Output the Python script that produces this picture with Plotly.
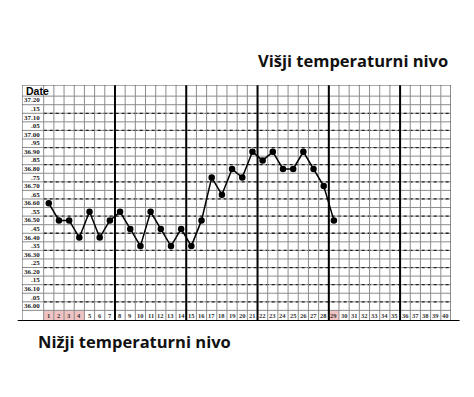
import plotly.graph_objects as go

# ---------------- data ----------------
days = list(range(1, 30))
temps = [36.60, 36.50, 36.50, 36.40, 36.55, 36.40, 36.50, 36.55, 36.45, 36.35,
         36.55, 36.45, 36.35, 36.45, 36.35, 36.50, 36.75, 36.65, 36.80, 36.75,
         36.90, 36.85, 36.90, 36.80, 36.80, 36.90, 36.80, 36.70, 36.50]
row_values = [round(37.20 - 0.05 * k, 2) for k in range(25)]
row_labels = ["37.20", ".15", "37.10", ".05", "37.00", ".95", "36.90", ".85", "36.80", ".75",
              "36.70", ".65", "36.60", ".55", "36.50", ".45", "36.40", ".35", "36.30", ".25",
              "36.20", ".15", "36.10", ".05", "36.00"]
day_labels = [str(d) for d in range(1, 41)]
marked_days = [1, 2, 3, 4, 29]
week_breaks = [7.5, 14.5, 21.5, 28.5, 35.5]
title_top = "Višji temperaturni nivo"
title_bottom = "Nižji temperaturni nivo"

# ---------------- geometry (data units) ----------------
X0, X1 = -1.63, 40.5
Y0, Y1 = 35.913, 37.29
ROW_BOTTOM = 35.975   # bottom of 36.00 row / top of day row
ROW_TOP = 37.225      # top of 37.20 row / bottom of Date header

OFF = 8  # page body margin
W, H = 474 - OFF, 397 - OFF
ML, MR, MT, MB = 22 - OFF, 23, 85 - OFF, 76
PW, PH = W - ML - MR, H - MT - MB

def px(xp):
    return (xp - OFF - ML) / PW

def py(yp):
    return (H - MB - (yp - OFF)) / PH

fig = go.Figure()

shapes = []
GRAY = "#8c8c8c"
for d in marked_days:
    shapes.append(dict(type="rect", x0=d - 0.5, x1=d + 0.5, y0=Y0, y1=ROW_BOTTOM,
                       fillcolor="#f1c3c3", line=dict(width=0), layer="below"))
for k in range(26):
    yv = ROW_BOTTOM + 0.05 * k
    shapes.append(dict(type="line", x0=X0, x1=X1, y0=yv, y1=yv,
                       line=dict(color=GRAY, width=1), layer="below"))
for k in range(12):
    yv = 36.025 + 0.1 * k
    shapes.append(dict(type="line", x0=0.5, x1=X1, y0=yv, y1=yv,
                       line=dict(color="#222", width=1.3, dash="dot"), layer="below"))
for i in range(41):
    xv = 0.5 + i
    shapes.append(dict(type="line", x0=xv, x1=xv, y0=Y0, y1=Y1,
                       line=dict(color=GRAY, width=1), layer="below"))
for xv in week_breaks:
    shapes.append(dict(type="line", x0=xv, x1=xv, y0=Y0, y1=Y1,
                       line=dict(color="#000", width=2), layer="below"))
shapes.append(dict(type="rect", x0=X0, x1=X1, y0=Y0, y1=Y1,
                   line=dict(color="#555", width=1), layer="below"))
shapes.append(dict(type="line", xref="paper", yref="y", x0=-0.01, x1=1.02, y0=Y0, y1=Y0,
                   line=dict(color="#000", width=2)))

annotations = []
annotations.append(dict(x=X0 + 0.15, y=(ROW_TOP + Y1) / 2, text="<b>Date</b>", showarrow=False,
                        xanchor="left", yanchor="middle",
                        font=dict(family="Liberation Sans", size=10.5, color="#000")))
for v, lab in zip(row_values, row_labels):
    annotations.append(dict(x=0.35, y=v, text="<b>" + lab + "</b>", showarrow=False,
                            xanchor="right", yanchor="middle",
                            font=dict(family="Liberation Serif", size=7, color="#222")))
for i, lab in enumerate(day_labels):
    annotations.append(dict(x=i + 1, y=(Y0 + ROW_BOTTOM) / 2, text="<b>" + lab + "</b>",
                            showarrow=False, xanchor="center", yanchor="middle",
                            font=dict(family="Liberation Serif", size=6.5, color="#333")))
annotations.append(dict(xref="paper", yref="paper", x=px(353), y=py(60), text="<b>" + title_top + "</b>",
                        showarrow=False, xanchor="center", yanchor="middle",
                        font=dict(family="Open Sans", size=16.5, color="#111")))
annotations.append(dict(xref="paper", yref="paper", x=px(134), y=py(341), text="<b>" + title_bottom + "</b>",
                        showarrow=False, xanchor="center", yanchor="middle",
                        font=dict(family="Open Sans", size=16.5, color="#111")))

fig.add_trace(go.Scatter(x=days, y=temps, mode="lines+markers",
                         line=dict(color="#000", width=1.5),
                         marker=dict(color="#000", size=6.5),
                         cliponaxis=False, showlegend=False, hoverinfo="x+y"))

fig.update_layout(
    width=W, height=H,
    margin=dict(l=ML, r=MR, t=MT, b=MB, pad=0),
    paper_bgcolor="white", plot_bgcolor="white",
    xaxis=dict(range=[X0, X1], visible=False, fixedrange=True),
    yaxis=dict(range=[Y0, Y1], visible=False, fixedrange=True),
    shapes=shapes, annotations=annotations, showlegend=False,
)

fig.write_html("out.html")
